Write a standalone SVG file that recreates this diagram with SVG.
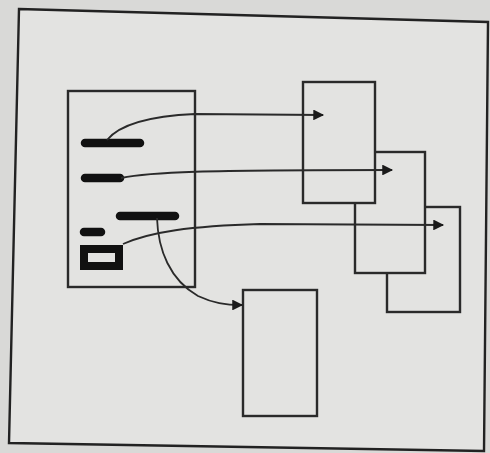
<svg xmlns="http://www.w3.org/2000/svg" width="490" height="453" viewBox="0 0 490 453">
  <style>
    .box { fill: #e3e3e1; stroke: #2a2a2a; stroke-width: 2.4; }
    .bar { stroke: #111; stroke-width: 8.5; stroke-linecap: round; fill: none; }
    .conn { fill: none; stroke: #2a2a2a; stroke-width: 1.8; }
  </style>
  <defs>
    <marker id="arrow" viewBox="0 0 10 10" refX="9" refY="5" markerWidth="6.5" markerHeight="6" orient="auto" markerUnits="strokeWidth">
      <path d="M0,0 L10,5 L0,10 z" fill="#1a1a1a"/>
    </marker>
  </defs>
  <rect x="0" y="0" width="490" height="453" fill="#d9d9d7"/>
  <g id="frame">
    <polygon points="19,9 488,22 484,451 9,443" fill="#e3e3e1" stroke="#222" stroke-width="2.4"/>
  </g>
  <g id="source-page">
    <rect class="box" x="68" y="91" width="127" height="196"/>
    <line class="bar" x1="85" y1="143" x2="140" y2="143"/>
    <line class="bar" x1="85" y1="178" x2="120" y2="178"/>
    <line class="bar" x1="120" y1="216" x2="175" y2="216"/>
    <line class="bar" x1="84" y1="232" x2="101" y2="232"/>
    <rect x="84" y="249" width="35" height="17" fill="none" stroke="#111" stroke-width="8"/>
  </g>
  <g id="target-3">
    <rect class="box" x="387" y="207" width="73" height="105"/>
  </g>
  <g id="target-2">
    <rect class="box" x="355" y="152" width="70" height="121"/>
  </g>
  <g id="target-1">
    <rect class="box" x="303" y="82" width="72" height="121"/>
  </g>
  <g id="target-4">
    <rect class="box" x="243" y="290" width="74" height="126"/>
  </g>
  <g id="connectors">
    <path class="conn" d="M107,140 C120,124 150,116 195,114 L323,115" marker-end="url(#arrow)"/>
    <path class="conn" d="M121,178 C150,172 200,170 392,170" marker-end="url(#arrow)"/>
    <path class="conn" d="M123,244 C150,232 190,226 260,224 L443,225" marker-end="url(#arrow)"/>
    <path class="conn" d="M157,218 C158,250 170,280 198,296 C213,303 225,305 242,305" marker-end="url(#arrow)"/>
  </g>
</svg>
